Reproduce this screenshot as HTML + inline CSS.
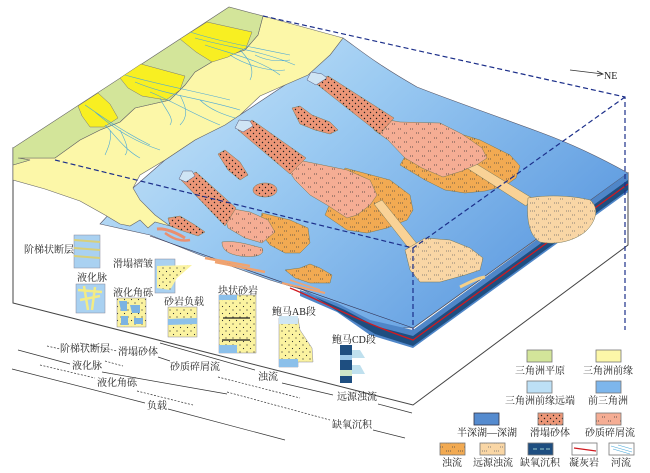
<!DOCTYPE html>
<html><head><meta charset="utf-8"><style>
html,body{margin:0;padding:0;background:#fff}
svg{display:block}
text{font-family:"Liberation Serif","Noto Serif CJK SC","Noto Sans CJK SC",serif;fill:#222}
</style></head><body>
<svg width="650" height="473" viewBox="0 0 650 473" xmlns="http://www.w3.org/2000/svg">
<defs>
<linearGradient id="bl" x1="0" y1="0" x2="1" y2="0.6">
<stop offset="0" stop-color="#d4ebf9"/><stop offset="0.45" stop-color="#9ccbf2"/><stop offset="1" stop-color="#5e9be0"/></linearGradient>
<pattern id="pd" width="6" height="6" patternUnits="userSpaceOnUse"><rect width="6" height="6" fill="#ec9677"/><circle cx="1.5" cy="1.5" r="0.7" fill="#222"/><circle cx="4.5" cy="4.5" r="0.7" fill="#222"/></pattern>
<pattern id="pf" width="12" height="9" patternUnits="userSpaceOnUse"><rect width="12" height="9" fill="#f5ad94"/><path d="M2 3h1M4 3h1M8 7h1M10 7h1" stroke="#333" stroke-width="0.8"/></pattern>
<pattern id="po" width="12" height="8" patternUnits="userSpaceOnUse"><rect width="12" height="8" fill="#f2aa52"/><path d="M2 3h1M4 3h1M6 3h1M8 7h1M10 7h1" stroke="#444" stroke-width="0.7"/></pattern>
<pattern id="pt" width="12" height="8" patternUnits="userSpaceOnUse"><rect width="12" height="8" fill="#f9d6a5"/><path d="M2 3h1M4 3h1M6 3h1M8 7h1M10 7h1" stroke="#666" stroke-width="0.7"/></pattern>
<pattern id="py" width="7" height="7" patternUnits="userSpaceOnUse"><rect width="7" height="7" fill="#fbf3a0"/><circle cx="2" cy="2" r="0.6" fill="#333"/><circle cx="5.5" cy="5.5" r="0.6" fill="#333"/></pattern>
</defs>

<polygon points="13,148 13,303 413,405 628,245 628,173 413,328" fill="#fff" stroke="#444" stroke-width="1"/>

<path d="M343,38 C360,50 375,63 417,87 C450,100 480,110 542,133 C580,147 610,163 628,173 L413,328 L370,327 L337,307 L303,290 L270,280 L200,255 L150,235 L100,224 L133,188 L165,160 L195,140 L240,115 L285,85 L330,55 Z" fill="url(#bl)" stroke="#556" stroke-width="0.6"/>
<path d="M300,290 L337,303 L370,320 L413,330 L628,173 L628,192 L413,348 L370,335 L337,312 L300,296 Z" fill="#4f86c8"/>
<path d="M315,297 L345,310 L375,326 L413,336 L628,180 L628,190 L413,346 L375,334 L345,316 Z" fill="#1e4e80"/>
<path d="M290,288 C320,300 350,318 413,340 L628,184" fill="none" stroke="#d01a20" stroke-width="1.3"/>
<line x1="150" y1="236" x2="413" y2="328" stroke="#335" stroke-width="0.6"/>

<path d="M263,16 L343,38 L330,55 L308,75 L285,85 L260,96 L240,115 L225,125 L195,140 L165,160 L140,175 L133,188 L140,200 L155,215 L170,226 L155,222 L148,228 L140,220 L130,226 L120,224 L105,215 L80,201 L45,189 L13,180 L13,165 L30,160 L18,158 L55,158 L80,140 L100,130 L120,122 L135,108 L170,100 L185,85 L195,72 L215,60 L245,50 L258,35 Z" fill="#fcf7a8" stroke="#666" stroke-width="0.6"/>
<path d="M13,148 L229,7 L263,16 L258,35 L245,50 L215,60 L195,72 L185,85 L170,100 L135,108 L120,122 L100,130 L80,140 L55,158 L18,158 L30,160 L13,165 Z" fill="#d3e59a" stroke="#666" stroke-width="0.6"/>
<path d="M180,39 L207,22 L252,32 L246,48 L228,57 L212,62 L196,52 Z" fill="#f8ef22" stroke="#777" stroke-width="0.5"/>
<path d="M120,78 L141,64 L185,76 L180,90 L166,100 L142,96 L128,88 Z" fill="#f8ef22" stroke="#777" stroke-width="0.5"/>
<path d="M78,106 L98,93 L110,104 L118,118 L104,127 L90,127 L82,116 Z" fill="#f8ef22" stroke="#777" stroke-width="0.5"/>
<g stroke="#4aa8d8" stroke-width="0.6" fill="none">
<path d="M190,32 C215,40 240,45 290,55 M195,38 C230,48 260,50 295,65 M205,45 C235,55 260,60 280,75 M240,50 C250,60 255,70 250,80 M230,55 C245,65 270,72 285,70 M255,55 C265,60 275,62 290,60"/>
<path d="M125,75 C160,85 190,90 230,100 M135,82 C165,95 200,98 240,110 M150,92 C170,100 195,115 220,125 M180,95 C185,105 190,115 180,125 M200,100 C210,110 225,115 235,118 M160,98 C165,110 175,118 170,125"/>
<path d="M85,105 C100,115 120,130 150,145 M95,112 C110,125 130,140 160,150 M105,125 C115,135 125,150 140,158 M120,130 C125,140 130,150 125,155 M110,130 C112,140 108,148 105,155"/>
</g>

<path d="M425,123 L480,140 L510,155 L520,166 L516,178 L505,186 L485,191 L465,193 L445,190 L425,180 L400,165 Z" fill="url(#po)" stroke="#775" stroke-width="0.5"/>
<path d="M462,165 L470,160 L532,198 L526,206 Z" fill="#f9d296" stroke="#775" stroke-width="0.5"/>
<path d="M528,198 C545,195 570,195 590,200 C600,208 596,222 585,232 C572,242 555,245 540,242 C530,236 526,222 528,198 Z" fill="url(#pt)" stroke="#775" stroke-width="0.5"/>
<path d="M378,118 L400,122 L440,123 L462,134 L482,148 L487,158 L478,164 L462,171 L443,177 L422,168 L405,158 L388,140 L374,130 Z" fill="url(#pf)" stroke="#775" stroke-width="0.5"/>
<path d="M314,82 L328,76 L394,118 L380,134 Z" fill="url(#pd)" stroke="#775" stroke-width="0.5"/>
<path d="M307,80 L311,72 L322,74 L327,78 L316,85 Z" fill="#cfe4f4" stroke="#557" stroke-width="0.5"/>
<path d="M292,108 L300,106 L312,115 L330,122 L338,130 L330,134 L315,130 L300,124 Z" fill="url(#pd)" stroke="#775" stroke-width="0.5"/>
<path d="M218,154 L225,150 L240,162 L248,175 L240,180 L228,170 Z" fill="url(#pd)" stroke="#775" stroke-width="0.5"/>
<ellipse cx="265" cy="190" rx="12" ry="7" fill="url(#pd)" stroke="#775" stroke-width="0.5"/>

<path d="M345,168 L390,180 L410,195 L413,210 L407,220 L387,228 L367,233 L347,230 L325,215 Z" fill="url(#po)" stroke="#775" stroke-width="0.5"/>
<path d="M374,204 L382,200 L418,245 L410,250 Z" fill="#f9d296" stroke="#775" stroke-width="0.5"/>
<path d="M405,250 L425,238 L450,240 L470,248 L483,258 L480,270 L465,275 L440,282 L420,282 L410,270 Z" fill="url(#pt)" stroke="#775" stroke-width="0.5"/>
<path d="M298,160 L347,170 L370,180 L377,195 L370,205 L357,215 L347,218 L327,205 L310,195 L295,180 L287,168 Z" fill="url(#pf)" stroke="#775" stroke-width="0.5"/>
<path d="M238,130 L252,120 L306,158 L290,174 Z" fill="url(#pd)" stroke="#775" stroke-width="0.5"/>
<path d="M235,128 L239,120 L250,121 L253,126 L243,132 Z" fill="#cfe4f4" stroke="#557" stroke-width="0.5"/>

<path d="M262,213 L290,220 L308,228 L310,243 L300,253 L285,253 L270,245 L258,230 Z" fill="url(#po)" stroke="#775" stroke-width="0.5"/>
<path d="M222,207 L250,212 L268,220 L275,232 L262,243 L245,238 L228,228 Z" fill="url(#pf)" stroke="#775" stroke-width="0.5"/>
<path d="M181,180 L196,172 L236,208 L225,226 Z" fill="url(#pd)" stroke="#775" stroke-width="0.5"/>
<path d="M179,179 L183,171 L192,171 L195,176 L186,182 Z" fill="#cfe4f4" stroke="#557" stroke-width="0.5"/>

<path d="M168,218 L180,216 L195,225 L205,232 L198,236 L180,230 L170,226 Z" fill="url(#pd)" stroke="#775" stroke-width="0.5"/>
<path d="M157,229 C165,228 175,232 185,238" stroke="#ea8f6f" stroke-width="3" fill="none"/>
<path d="M165,233 C172,238 180,242 190,240" stroke="#ea8f6f" stroke-width="2.5" fill="none"/>
<path d="M222,242 C235,240 250,245 262,248 C266,255 255,258 240,256 C228,254 222,250 222,242 Z" fill="url(#pf)" stroke="#775" stroke-width="0.5"/>
<path d="M205,258 L250,266" stroke="#f0a370" stroke-width="2.5"/>
<path d="M215,262 L265,272" stroke="#f0a370" stroke-width="2.5"/>
<path d="M285,270 L300,268 L310,264 L320,268 L332,275 L330,283 L310,283 L295,278 Z" fill="url(#po)" stroke="#775" stroke-width="0.5"/>
<path d="M282,283 L325,293" stroke="#f0a370" stroke-width="2"/>
<path d="M290,280 L320,290" stroke="#f0a370" stroke-width="1.5"/>
<path d="M460,287 C470,282 478,278 485,277" stroke="#f4d08a" stroke-width="3"/>

<g stroke="#1c2f8a" stroke-width="1.2" stroke-dasharray="5,3" fill="none">
<path d="M263,16 L625,97 L625,330"/>
<path d="M55,160 L413,248 L625,97"/>
<path d="M413,248 L413,330"/>
</g>

<line x1="570" y1="70" x2="603" y2="74" stroke="#333" stroke-width="0.8"/>
<path d="M597,71 L603,74 L597,76" stroke="#333" stroke-width="0.8" fill="none"/>
<text x="604" y="79" font-size="10">NE</text>

<rect x="74" y="235" width="26" height="33" fill="#a9d1f1" stroke="#889" stroke-width="0.5"/>
<path d="M74,240 L100,242 M74,248 L100,250 M74,256 L100,258" stroke="#d8d07a" stroke-width="2"/>
<rect x="76" y="284" width="29" height="29" fill="#a9d1f1" stroke="#889" stroke-width="0.5"/>
<path d="M78,290 L102,292 M80,300 L100,296 M84,286 L88,310 M95,287 L92,310" stroke="#f3ec84" stroke-width="2.5"/>
<rect x="155" y="259" width="20" height="34" fill="#a9d1f1" stroke="#889" stroke-width="0.5"/>
<path d="M157,266 L192,265 L177,278 L170,290 L157,288 Z" fill="url(#py)"/>
<rect x="117" y="298" width="29" height="29" fill="url(#py)" stroke="#889" stroke-width="0.5"/>
<path d="M119,301 h8 v10 h-6 z M130,305 h10 v8 h-8 z M121,316 h7 v9 h-7 z M134,318 h9 v6 h-9 z" fill="#7cb3e2"/>
<rect x="168" y="307" width="29" height="30" fill="url(#py)" stroke="#889" stroke-width="0.5"/>
<path d="M168,319 L197,318 L197,324 L168,325 Z" fill="#8cc0ea"/>
<rect x="219" y="295" width="37" height="58" fill="url(#py)" stroke="#889" stroke-width="0.5"/>
<rect x="219" y="295" width="18" height="5" fill="#8cc0ea"/>
<rect x="219" y="345" width="18" height="8" fill="#8cc0ea"/>
<path d="M223,318 L250,318 M222,340 L250,340" stroke="#222" stroke-width="1.2"/>
<path d="M279,318 L298,318 L300,330 L312,348 L313,362 L298,362 L298,367 L279,367 Z" fill="url(#py)" stroke="#889" stroke-width="0.5"/>
<rect x="279" y="316" width="19" height="8" fill="#cfe6f4"/>
<rect x="279" y="359" width="19" height="8" fill="#8cc0ea"/>
<rect x="340" y="345" width="12" height="38" fill="#1e4e80"/>
<path d="M352,350 L360,350 L365,358 L352,358 Z M352,365 L360,365 L365,374 L352,374 Z" fill="#bfe0ee"/>
<rect x="340" y="355" width="12" height="5" fill="#9cc8ea"/>
<rect x="340" y="370" width="12" height="6" fill="#cfe6c8"/>

<g font-size="10">
<text x="24" y="253">阶梯状断层</text>
<text x="77" y="281">液化脉</text>
<text x="113" y="267">滑塌褶皱</text>
<text x="113" y="296">液化角砾</text>
<text x="164" y="305">砂岩负载</text>
<text x="218" y="294">块状砂岩</text>
<text x="272" y="315">鲍马AB段</text>
<text x="332" y="343">鲍马CD段</text>
</g>

<g stroke="#333" stroke-width="0.7" fill="none">
<path d="M47,346 L60,349 M105,361 L123,366" stroke-dasharray="2,1.5"/>
<path d="M80,343 L117,351" stroke-dasharray="2,1.5"/>
<path d="M158,357 L170,361"/>
<path d="M218,377 L300,398" stroke-dasharray="2,1.5"/>
<path d="M160,343 L255,370 M282,383 L333,395 M378,404 L412,413"/>
<path d="M18,350 L70,364 M102,372 L227,394"/>
<path d="M227,392 L330,420" stroke-dasharray="2,1.5"/>
<path d="M40,365 L95,378 M137,391 L193,405" stroke-dasharray="2,1.5"/>
<path d="M12,369 L145,403 M168,409 L285,440"/>
<path d="M373,430 L405,438"/>
</g>
<g font-size="10">
<text x="60" y="352">阶梯状断层</text>
<text x="118" y="355">滑塌砂体</text>
<text x="170" y="370">砂质碎屑流</text>
<text x="258" y="380">浊流</text>
<text x="337" y="400">远源浊流</text>
<text x="72" y="369">液化脉</text>
<text x="97" y="386">液化角砾</text>
<text x="147" y="409">负载</text>
<text x="332" y="428">缺氧沉积</text>
</g>

<g stroke="#777" stroke-width="0.8">
<rect x="527" y="350" width="25" height="12" fill="#d3e59a"/>
<rect x="596" y="350" width="25" height="12" fill="#fcf7a8"/>
<rect x="527" y="381" width="25" height="12" fill="#bde0f6"/>
<rect x="596" y="381" width="25" height="12" fill="#7db6ec"/>
<rect x="474" y="413" width="25" height="12" fill="#558bcf" stroke="#334"/>
<rect x="538" y="413" width="25" height="12" fill="url(#pd)"/>
<rect x="596" y="413" width="25" height="12" fill="url(#pf)"/>
<rect x="440" y="443" width="25" height="12" fill="url(#po)"/>
<rect x="480" y="443" width="25" height="12" fill="url(#pt)"/>
<rect x="528" y="443" width="25" height="12" fill="#1e4e80"/>
<rect x="572" y="443" width="25" height="12" fill="#fff"/>
<rect x="609" y="443" width="25" height="12" fill="#fff"/>
</g>
<path d="M574,448 L596,451" stroke="#d01a20" stroke-width="1.3"/>
<path d="M533,449 h4 M540,449 h4 M546,449 h4" stroke="#9cc" stroke-width="1"/>
<path d="M611,446 L632,452 M613,449 L630,454 M618,445 L632,449" stroke="#4aa8d8" stroke-width="0.6"/>
<g font-size="10" fill="#333" text-anchor="middle">
<text x="540" y="374">三角洲平原</text>
<text x="608" y="374">三角洲前缘</text>
<text x="540" y="404">三角洲前缘远端</text>
<text x="608" y="404">前三角洲</text>
<text x="487" y="436">半深湖—深湖</text>
<text x="550" y="436">滑塌砂体</text>
<text x="610" y="436">砂质碎屑流</text>
<text x="452" y="466">浊流</text>
<text x="493" y="466">远源浊流</text>
<text x="540" y="466">缺氧沉积</text>
<text x="584" y="466">凝灰岩</text>
<text x="621" y="466">河流</text>
</g>
</svg>
</body></html>
